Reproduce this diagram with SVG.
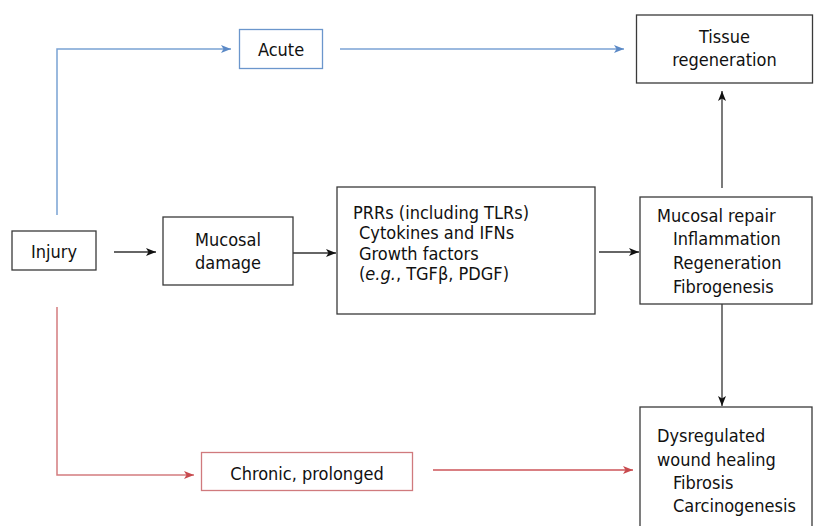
<svg xmlns="http://www.w3.org/2000/svg" width="814" height="526" viewBox="0 0 814 526">
<defs>
<marker id="ak" viewBox="0 0 10 8" refX="10" refY="4" markerWidth="10" markerHeight="8" markerUnits="userSpaceOnUse" orient="auto"><path d="M0,0 L10,4 L0,8 L2.5,4 z" fill="#111"/></marker>
<marker id="ab" viewBox="0 0 10 8" refX="10" refY="4" markerWidth="10" markerHeight="8" markerUnits="userSpaceOnUse" orient="auto"><path d="M0,0 L10,4 L0,8 L2.5,4 z" fill="#5b89c6"/></marker>
<marker id="ar" viewBox="0 0 10 8" refX="10" refY="4" markerWidth="10" markerHeight="8" markerUnits="userSpaceOnUse" orient="auto"><path d="M0,0 L10,4 L0,8 L2.5,4 z" fill="#c84a4e"/></marker>
</defs>
<style>
text{font-family:"DejaVu Sans Condensed","DejaVu Sans",sans-serif;font-stretch:condensed;font-size:18px;fill:#111}
.c{text-anchor:middle}
.box{fill:#fff;stroke:#3a3a3a;stroke-width:1.3}
.bb{fill:#fff;stroke:#6b96cc;stroke-width:1.3}
.rb{fill:#fff;stroke:#d07a7d;stroke-width:1.3}
.k{fill:none;stroke:#333;stroke-width:1.3}
.b{fill:none;stroke:#7aa2d4;stroke-width:1.5}
.r{fill:none;stroke:#d47c7f;stroke-width:1.5}
.r2{fill:none;stroke:#cc5558;stroke-width:1.3}
</style>
<rect width="814" height="526" fill="#fff"/>
<g id="connectors">
<path class="b" d="M57,215 V49 H231" marker-end="url(#ab)"/>
<path class="b" d="M340,49 H624" marker-end="url(#ab)"/>
<path class="r" d="M57,307 V475 H194" marker-end="url(#ar)"/>
<path class="r2" d="M433,470 H633" marker-end="url(#ar)"/>
<path class="k" d="M114,252 H156" marker-end="url(#ak)"/>
<path class="k" d="M293,253 H336" marker-end="url(#ak)"/>
<path class="k" d="M599,252 H639" marker-end="url(#ak)"/>
<path class="k" d="M722,188 V91" marker-end="url(#ak)"/>
<path class="k" d="M722,304 V406" marker-end="url(#ak)"/>
</g>
<g id="injury">
<rect class="box" x="12" y="231" width="84" height="39"/>
<text class="c" x="54" y="258">Injury</text>
</g>
<g id="acute">
<rect class="bb" x="239.5" y="29.5" width="83" height="39"/>
<text class="c" x="281" y="56">Acute</text>
</g>
<g id="tissue">
<rect class="box" x="636.5" y="15" width="176" height="68"/>
<text class="c" x="724.5" y="43">Tissue</text>
<text class="c" x="724.5" y="66">regeneration</text>
</g>
<g id="mucosal-damage">
<rect class="box" x="163" y="217" width="130" height="68"/>
<text class="c" x="228" y="246">Mucosal</text>
<text class="c" x="228" y="269">damage</text>
</g>
<g id="prrs">
<rect class="box" x="337" y="187" width="258" height="127"/>
<text x="353" y="219">PRRs (including TLRs)</text>
<text x="359" y="239">Cytokines and IFNs</text>
<text x="359" y="260">Growth factors</text>
<text x="359" y="280">(<tspan font-style="italic">e.g.</tspan>, TGFβ, PDGF)</text>
</g>
<g id="mucosal-repair">
<rect class="box" x="640" y="197" width="172" height="107"/>
<text x="657" y="222">Mucosal repair</text>
<text x="673" y="245">Inflammation</text>
<text x="673" y="269">Regeneration</text>
<text x="673" y="293">Fibrogenesis</text>
</g>
<g id="chronic">
<rect class="rb" x="201.5" y="452.5" width="211" height="38"/>
<text class="c" x="307" y="480">Chronic, prolonged</text>
</g>
<g id="dysregulated">
<rect class="box" x="640" y="407" width="172" height="130"/>
<text x="657" y="442">Dysregulated</text>
<text x="657" y="466">wound healing</text>
<text x="673" y="489">Fibrosis</text>
<text x="673" y="512">Carcinogenesis</text>
</g>
</svg>
